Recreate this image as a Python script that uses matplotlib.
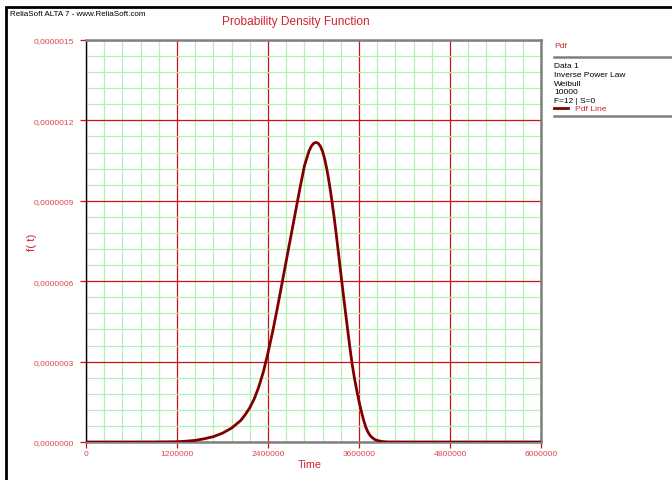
import matplotlib
matplotlib.use("Agg")
import matplotlib.pyplot as plt
from matplotlib.patches import Rectangle
from matplotlib.lines import Line2D
from matplotlib.ticker import MultipleLocator, FixedLocator

# ---- data ----
time_vals = [0, 600000, 900000, 1200000, 1320000, 1440000, 1560000, 1680000,
             1800000, 1920000, 2040000, 2100000, 2160000, 2220000, 2280000,
             2340000, 2400000, 2460000, 2520000, 2580000, 2640000, 2700000,
             2760000, 2820000, 2880000, 2940000, 2970000, 3000000, 3030000,
             3060000, 3090000, 3120000, 3150000, 3180000, 3210000, 3240000,
             3270000, 3300000, 3330000, 3360000, 3390000, 3420000, 3450000,
             3480000, 3510000, 3540000, 3570000, 3600000, 3630000, 3660000,
             3690000, 3720000, 3750000, 3780000, 3810000, 3850000, 3900000,
             3950000, 4000000, 4200000, 6000000]
pdf_micro = [0.0, 0.0, 0.0002, 0.001, 0.003, 0.006, 0.012, 0.020,
             0.033, 0.052, 0.080, 0.102, 0.128, 0.162, 0.207,
             0.263, 0.333, 0.410, 0.495, 0.585, 0.675, 0.765,
             0.855, 0.945, 1.030, 1.085, 1.103, 1.114, 1.118,
             1.115, 1.104, 1.084, 1.053, 1.012, 0.962, 0.905,
             0.843, 0.775, 0.703, 0.630, 0.558, 0.488, 0.420,
             0.352, 0.290, 0.238, 0.193, 0.152, 0.115, 0.082,
             0.055, 0.036, 0.023, 0.015, 0.009, 0.005, 0.002,
             0.0007, 0.0002, 0.0, 0.0]
pdf_vals = [v * 1e-6 for v in pdf_micro]

x_ticks = [0, 1200000, 2400000, 3600000, 4800000, 6000000]
x_tick_labels = ["0", "1200000", "2400000", "3600000", "4800000", "6000000"]
y_ticks = [0, 3e-7, 6e-7, 9e-7, 1.2e-6, 1.5e-6]
y_tick_labels = ["0,0000000", "0,0000003", "0,0000006", "0,0000009",
                 "0,0000012", "0,0000015"]
legend_lines = ["Data 1", "Inverse Power Law", "Weibull", "10000", "F=12 | S=0"]

plt.rcParams['font.family'] = ['Liberation Sans', 'DejaVu Sans']

W, H = 672, 481
fig = plt.figure(figsize=(W / 100, H / 100), dpi=100)
fig.patch.set_facecolor("white")

def fx(px):
    return px / W

def fy(py):
    return 1 - py / H

RED_TXT = "#d2242c"
TICK_RED = "#e0444c"
GRID_RED = "#c81414"
GRID_GREEN = "#b4f0b4"
CURVE = "#800000"
GRAY = "#808080"

ax = fig.add_axes([fx(86), fy(443), fx(541) - fx(86), fy(41) - fy(443)])
ax.set_xlim(0, 6000000)
ax.set_ylim(0, 1.5e-6)

ax.xaxis.set_major_locator(FixedLocator(x_ticks))
ax.yaxis.set_major_locator(FixedLocator(y_ticks))
ax.xaxis.set_minor_locator(MultipleLocator(240000))
ax.yaxis.set_minor_locator(MultipleLocator(6e-8))
ax.set_xticklabels(x_tick_labels)
ax.set_yticklabels(y_tick_labels)

ax.grid(which="minor", color=GRID_GREEN, lw=0.9, zorder=0)
ax.grid(which="major", color=GRID_RED, lw=0.9, zorder=1)
ax.set_axisbelow(True)

ax.tick_params(which="minor", length=0)
ax.tick_params(which="major", length=4, color=GRID_RED, width=0.9,
               labelcolor=TICK_RED, labelsize=6.1, pad=2)
ax.tick_params(axis="y", pad=5)

ax.plot(time_vals, pdf_vals, color=CURVE, lw=2.0, zorder=3,
        solid_capstyle="round", solid_joinstyle="round")

ax.spines["left"].set_color("black")
ax.spines["left"].set_linewidth(1.0)
for s in ("top", "right", "bottom"):
    ax.spines[s].set_color(GRAY)
    ax.spines[s].set_linewidth(1.8)

fig.text(fx(310), fy(465), "Time", color=RED_TXT, fontsize=7.8,
         ha="center", va="center")
fig.text(fx(32), fy(242), "f( t)", color=RED_TXT, fontsize=8.2, rotation=90,
         ha="center", va="center")

fig.text(fx(222), fy(22), "Probability Density Function", color=RED_TXT,
         fontsize=8.6, ha="left", va="center")
fig.text(fx(10), fy(14), "ReliaSoft ALTA 7 - www.ReliaSoft.com", color="black",
         fontsize=5.8, ha="left", va="center")

# frame border
fig.patches.append(Rectangle((fx(5.5), -0.2), 1.5, fy(7.5) + 0.2,
                             transform=fig.transFigure, fill=False,
                             ec="black", lw=2.0, clip_on=False))

# legend panel
fig.text(fx(554), fy(46), "Pdf", color=RED_TXT, fontsize=6.1, ha="left", va="center")
fig.lines.append(Line2D([fx(554), 1.0], [fy(58), fy(58)], transform=fig.transFigure,
                        color=GRAY, lw=1.8))
for i, s in enumerate(legend_lines):
    fig.text(fx(554), fy(67 + i * 8.6), s, color="black", fontsize=6.0,
             ha="left", va="center")
fig.lines.append(Line2D([fx(554), fx(568)], [fy(109), fy(109)], transform=fig.transFigure,
                        color=CURVE, lw=2.0))
fig.text(fx(575), fy(109.5), "Pdf Line", color=RED_TXT, fontsize=6.1, ha="left", va="center")
fig.lines.append(Line2D([fx(554), 1.0], [fy(117), fy(117)], transform=fig.transFigure,
                        color=GRAY, lw=1.8))

fig.savefig("out.png", dpi=100)
